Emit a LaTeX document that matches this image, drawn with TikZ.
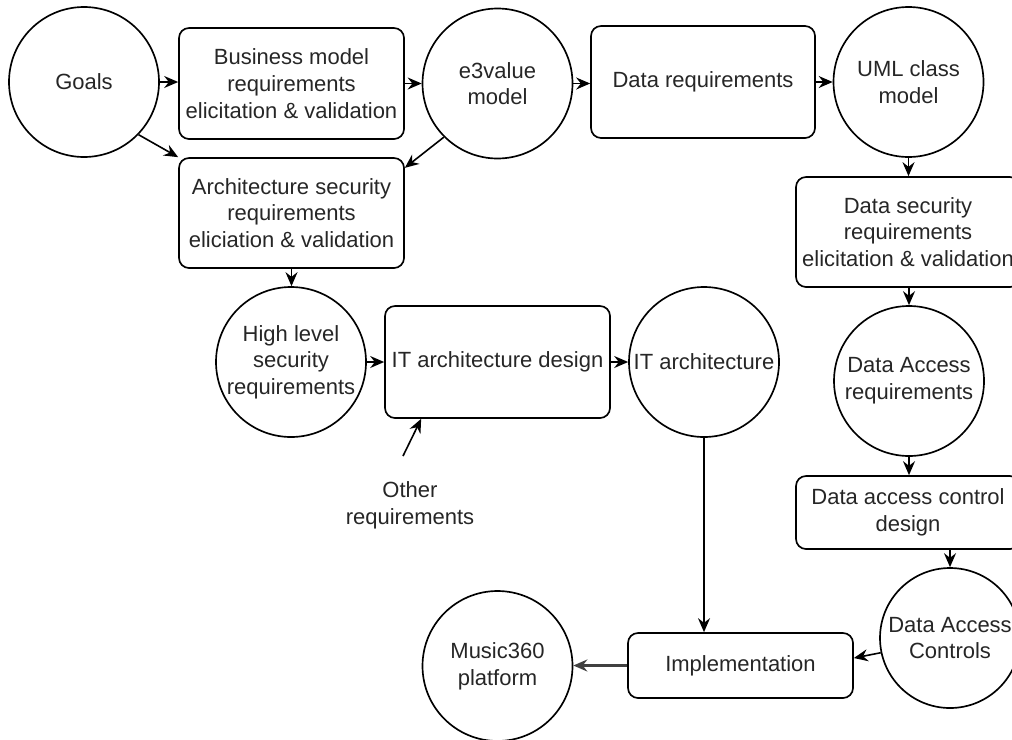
\documentclass[tikz,border=0pt]{standalone}
\usepackage{fontspec}
\setmainfont{Liberation Sans}
\usetikzlibrary{arrows.meta}
\begin{document}
\begin{tikzpicture}[x=0.75pt, y=-0.75pt,
  every node/.style={font=\fontsize{16.5pt}{20pt}\selectfont, text=black!85},
  stepbox/.style={draw, rounded corners=7.5pt, line width=1.25pt, minimum width=168.75pt, inner sep=0pt, align=center},
  stage/.style={draw, circle, line width=1.25pt, minimum size=112.5pt, inner sep=0pt},
  flow/.style={line width=1.2pt, -{Stealth[length=10.5pt,width=9pt,inset=3.5pt]}},
]
\useasboundingbox (0,0) rectangle (1012,739);
\clip (0,0) rectangle (1012,739);

% top row
\node[stage, label={[align=center]center:Goals}] (goals) at (84,82) {};
\node[stepbox, minimum height=83.25pt] (bm) at (291.5,83.5) {Business model\\requirements\\elicitation \& validation};
\node[stage, label={[align=center]center:{e3value\\model}}] (e3) at (497.5,83.5) {};
\node[stepbox, minimum width=168pt, minimum height=84pt] (dr) at (703,82) {Data requirements};
\node[stage, label={[align=center]center:{UML class\\model}}] (uml) at (908.5,82) {};

% architecture branch
\node[stepbox, minimum height=82.5pt] (asr) at (291.5,213) {Architecture security\\requirements\\eliciation \& validation};
\node[stage, label={[align=center]center:{High level\\security\\requirements}}] (hl) at (291,362) {};
\node[stepbox, minimum height=84pt] (itd) at (497.5,362) {IT architecture design};
\node[stage, label={[align=center]center:{IT architecture}}] (ita) at (704,362) {};
\node[align=center] (other) at (410,505) {Other\\requirements};
\coordinate (othertail) at (403,456);

% data branch
\node[stepbox, minimum width=168pt, minimum height=82.5pt] (dsr) at (908,232) {Data security\\requirements\\elicitation \& validation};
\node[stage, label={[align=center]center:{Data Access\\requirements}}] (dar) at (909,381) {};
\node[stepbox, minimum width=168pt, minimum height=54.75pt] (dacd) at (908,512.5) {Data access control\\design};
\node[stage, minimum size=105pt, label={[align=center]center:{Data Access\\Controls}}] (dac) at (950,638) {};

% bottom row
\node[stepbox, minimum height=48.75pt] (impl) at (740.5,665.5) {Implementation};
\node[stage, label={[align=center]center:{Music360\\platform}}] (m360) at (497.5,666) {};

% connectors
\draw[flow] (goals.east) -- (goals.east -| bm.west);
\draw[flow] (goals.-44) -- (asr.north west);
\draw[flow] (bm.east) -- (bm.east -| e3.west);
\draw[flow] (e3.-135.5) -- ([yshift=-8pt]asr.north east);
\draw[flow] (e3.east) -- (e3.east -| dr.west);
\draw[flow] (dr.east) -- (dr.east -| uml.west);
\draw[flow] (uml.south) -- (uml.south |- dsr.north);
\draw[flow] (asr.south) -- (asr.south |- hl.north);
\draw[flow] (hl.east) -- (hl.east -| itd.west);
\draw[flow] (itd.east) -- (itd.east -| ita.west);
\draw[flow] (othertail) -- ([xshift=27.75pt]itd.south west);
\draw[flow] (ita.south) -- (ita.south |- impl.north);
\draw[flow] (dsr.south -| dar.north) -- (dar.north);
\draw[flow] (dar.south) -- (dar.south |- dacd.north);
\draw[flow] (dac.north |- dacd.south) -- (dac.north);
\draw[flow] (dac.192) -- ([yshift=5.6pt]impl.east);
\draw[flow, line width=1.8pt, draw=black!75] (impl.west) -- (impl.west -| m360.east);
\end{tikzpicture}
\end{document}
